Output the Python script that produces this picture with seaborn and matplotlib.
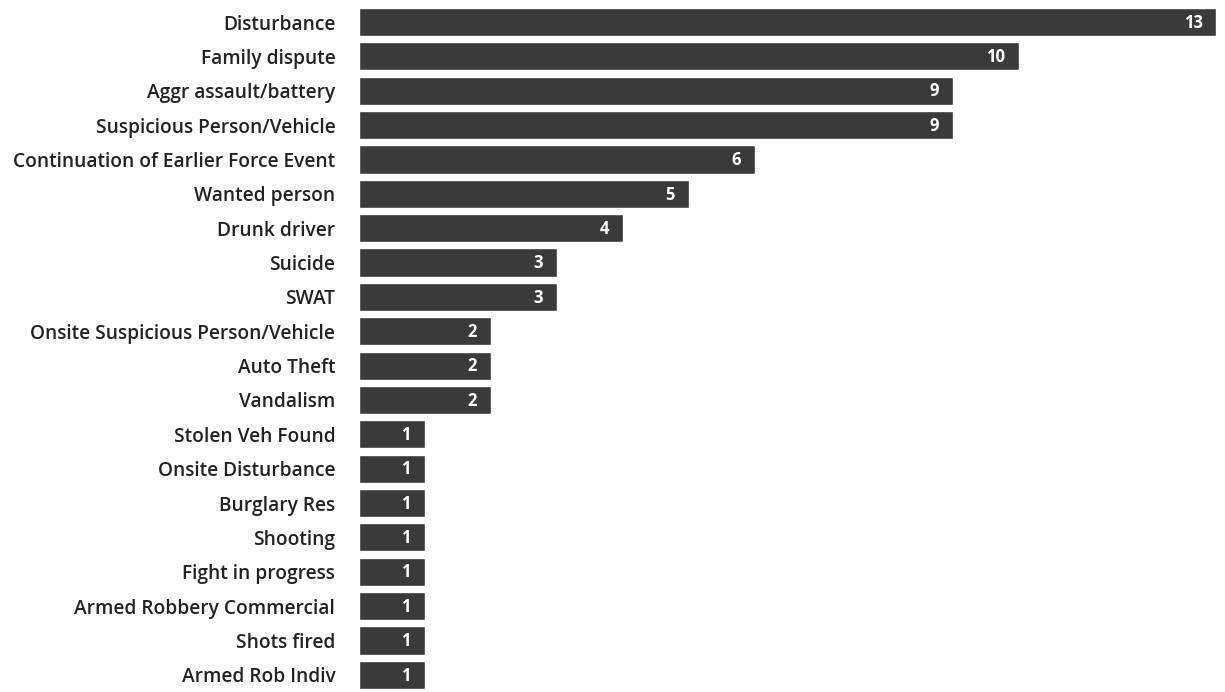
import matplotlib
matplotlib.use("Agg")
import matplotlib.pyplot as plt
import seaborn as sns
import pandas as pd

categories = [
    "Disturbance", "Family dispute", "Aggr assault/battery", "Suspicious Person/Vehicle",
    "Continuation of Earlier Force Event", "Wanted person", "Drunk driver", "Suicide", "SWAT",
    "Onsite Suspicious Person/Vehicle", "Auto Theft", "Vandalism", "Stolen Veh Found",
    "Onsite Disturbance", "Burglary Res", "Shooting", "Fight in progress",
    "Armed Robbery Commercial", "Shots fired", "Armed Rob Indiv",
]
counts = [13, 10, 9, 9, 6, 5, 4, 3, 3, 2, 2, 2, 1, 1, 1, 1, 1, 1, 1, 1]

df = pd.DataFrame({"category": categories, "count": counts})

sns.set_theme(style="white")
plt.rcParams["font.family"] = ["Open Sans", "DejaVu Sans"]

fig = plt.figure(figsize=(12.25, 6.92), dpi=100)
ax = fig.add_axes([0.293, 0.0, 0.700, 0.993])
sns.barplot(data=df, x="count", y="category", orient="h", color="#3a3a3a",
            saturation=1, width=0.82, ax=ax)

ax.set_xlim(0, 13)
ax.set_ylim(len(categories) - 0.5, -0.5)
ax.set_xlabel("")
ax.set_ylabel("")
ax.set_xticks([])
for s in ax.spines.values():
    s.set_visible(False)
ax.tick_params(axis="y", length=0, pad=17, labelsize=13.8, labelcolor="#222222")
for lab in ax.get_yticklabels():
    lab.set_fontweight("semibold")

for i, v in enumerate(counts):
    ax.annotate(str(v), xy=(v, i), xytext=(-10, -0.5), textcoords="offset points",
                ha="right", va="center", color="white", fontsize=12, fontweight="bold")

fig.savefig("out.png", dpi=100, facecolor="white")
